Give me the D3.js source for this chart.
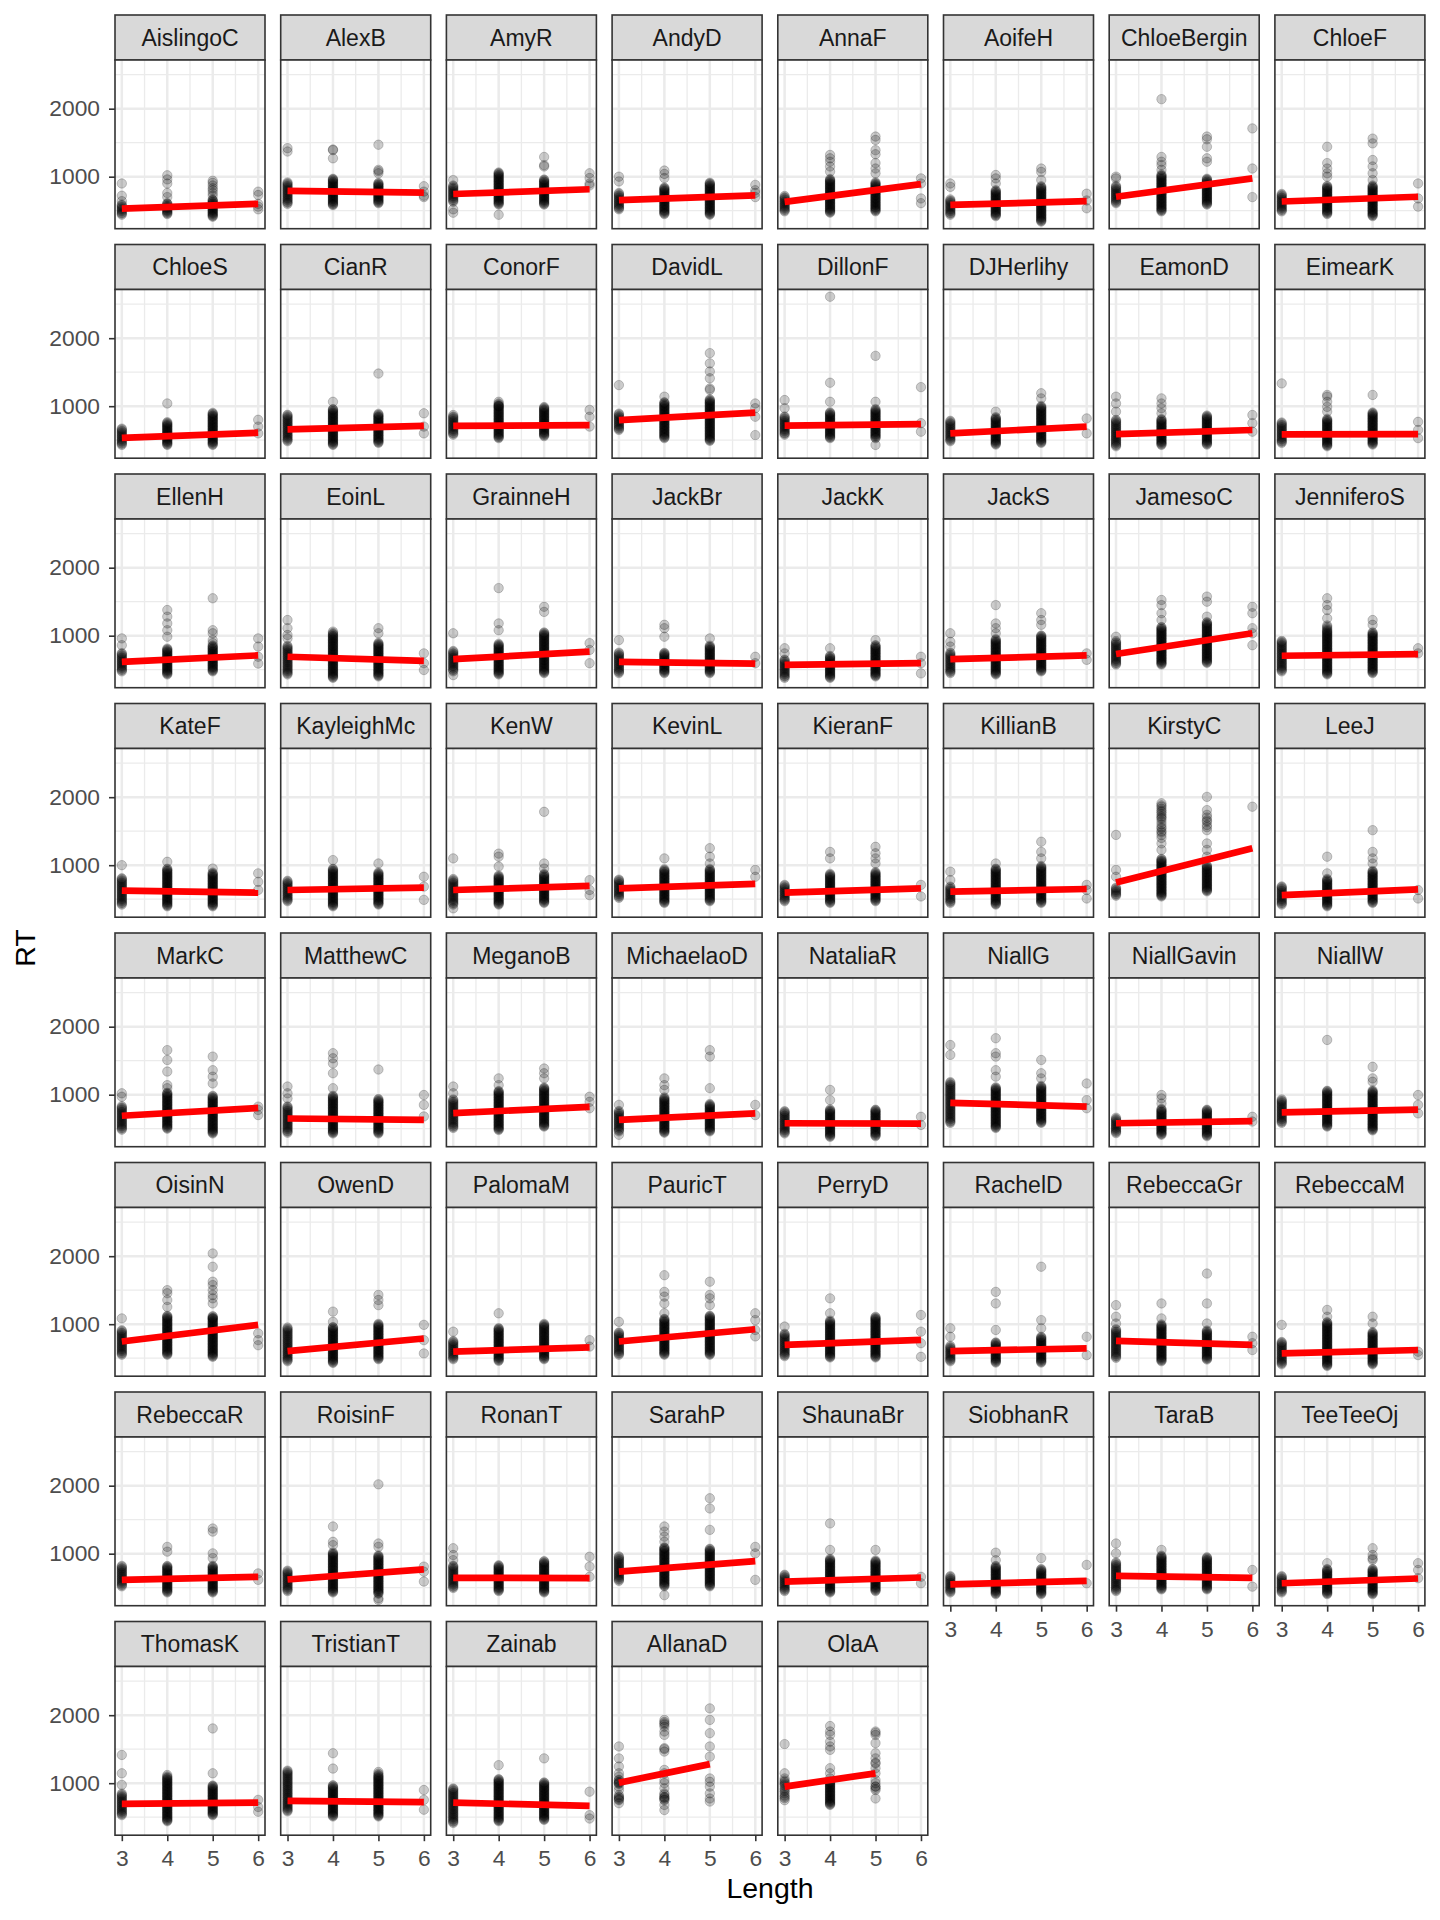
<!DOCTYPE html>
<html><head><meta charset="utf-8">
<script src="https://cdn.jsdelivr.net/npm/d3@7"></script>
<style>body{margin:0;background:#fff} text{font-family:"Liberation Sans",Arial,Helvetica,sans-serif}</style>
</head><body><svg id="chart" width="1440" height="1920"></svg>
<script>
const participants = ["AislingoC","AlexB","AmyR","AndyD","AnnaF","AoifeH","ChloeBergin","ChloeF","ChloeS","CianR","ConorF","DavidL","DillonF","DJHerlihy","EamonD","EimearK","EllenH","EoinL","GrainneH","JackBr","JackK","JackS","JamesoC","JenniferoS","KateF","KayleighMc","KenW","KevinL","KieranF","KillianB","KirstyC","LeeJ","MarkC","MatthewC","MeganoB","MichaelaoD","NataliaR","NiallG","NiallGavin","NiallW","OisinN","OwenD","PalomaM","PauricT","PerryD","RachelD","RebeccaGr","RebeccaM","RebeccaR","RoisinF","RonanT","SarahP","ShaunaBr","SiobhanR","TaraB","TeeTeeOj","ThomasK","TristianT","Zainab","AllanaD","OlaA"];
const xTicks = [3,4,5,6];
const xMinor = [3.5,4.5,5.5];
const yTicks = [1000,2000];
const yMinor = [500,1500,2500];
const lengths = [3,4,5,6];

// RT (ms) per participant, word length 3
const rt3 = [
[900,720,640,440,456,468,486,500,516,528,546,560,576,588],
[1420,1370,600,616,628,646,660,676,688,706,720,736,748,766,780,796,808,826,840,856,868,886,900,916],
[950,470,520,630,646,658,676,690,706,718,736,750,766,778,796,810,826,838,856,870],
[1000,930,520,536,548,566,580,596,608,626,640,656,668,686,700,716,728,746,760],
[490,506,518,536,550,566,578,596,610,626,638,656,670,686,698,716],
[900,850,440,456,468,486,500,516,528,546,560,576,588,606,620,636,648,666],
[1000,975,610,626,638,656,670,686,698,716,730,746,758,776,790,806,818,836,850,866],
[490,506,518,536,550,566,578,596,610,626,638,656,670,686,698,716,730,746],
[430,446,458,476,490,506,518,536,550,566,578,596,610,626,638,656,670],
[485,501,513,531,545,561,573,591,605,621,633,651,665,681,693,711,725,741,753,771,785,801,813,831,845,861,873],
[870,580,596,608,626,640,656,668,686,700,716,728,746,760,776,788,806,820,836,848],
[1310,650,666,678,696,710,726,738,756,770,786,798,816,830,846,858,876,890],
[1090,970,580,596,608,626,640,656,668,686,700,716,728,746,760,776,788,806,820,836,848],
[485,501,513,531,545,561,573,591,605,621,633,651,665,681,693,711,725,741,753,771,785],
[1140,1040,920,410,426,438,456,470,486,498,516,530,546,558,576,590,606,618,636,650,666,678,696,710,726,738,756,770,786,798],
[1335,460,476,488,506,520,536,548,566,580,596,608,626,640,656,668,686,700,716,728,746,760],
[960,860,475,491,503,521,535,551,563,581,595,611,623,641,655,671,683,701,715,731,743],
[1230,1110,1010,960,430,446,458,476,490,506,518,536,550,566,578,596,610,626,638,656,670,686,698,716,730,746,758,776,790,806,818,836,850],
[1035,420,475,491,503,521,535,551,563,581,595,611,623,641,655,671,683,701,715,731,743,761,775],
[935,450,466,478,496,510,526,538,556,570,586,598,616,630,646,658,676,690,706,718,736,750],
[815,740,380,396,408,426,440,456,468,486,500,516,528,546,560,576,588,606,620,636,648],
[1035,910,840,450,466,478,496,510,526,538,556,570,586,598,616,630,646,658,676,690,706,718,736,750],
[985,575,591,603,621,635,651,663,681,695,711,723,741,755,771,783,801,815,831,843,861,875,891,903,921],
[475,491,503,521,535,551,563,581,595,611,623,641,655,671,683,701,715,731,743,761,775,791,803,821,835,851,863,881,895,911,923],
[1000,420,436,448,466,480,496,508,526,540,556,568,586,600,616,628,646,660,676,688,706,720,736,748,766,780,796,808],
[470,486,498,516,530,546,558,576,590,606,618,636,650,666,678,696,710,726,738,756,770],
[1100,365,420,436,448,466,480,496,508,526,540,556,568,586,600,616,628,646,660,676,688,706,720,736,748,766,780,796],
[520,536,548,566,580,596,608,626,640,656,668,686,700,716,728,746,760,776,788],
[470,486,498,516,530,546,558,576,590,606,618,636,650,666,678,696,710],
[905,780,445,461,473,491,505,521,533,551,565,581,593,611,625,641,653,671,685],
[1445,930,830,550,566,578,596,610,626,638,656,670],
[420,436,448,466,480,496,508,526,540,556,568,586,600,616,628,646,660,676,688],
[1020,970,485,501,513,531,545,561,573,591,605,621,633,651,665,681,693,711,725,741,753,771,785,801,813,831],
[1120,1020,945,440,456,468,486,500,516,528,546,560,576,588,606,620,636,648,666,680,696,708,726,740,756,768,786,800,816,828],
[1120,1020,510,526,538,556,570,586,598,616,630,646,658,676,690,706,718,736,750,766,778,796,810,826,838,856,870,886,898,916,930],
[850,410,460,476,488,506,520,536,548,566,580,596,608,626,640,656,668,686,700,716,728,746,760],
[430,446,458,476,490,506,518,536,550,566,578,596,610,626,638,656,670,686,698,716,730,746,758],
[1730,1585,585,601,613,631,645,661,673,691,705,721,733,751,765,781,793,811,825,841,853,871,885,901,913,931,945,961,973,991,1005,1021,1033,1051,1065,1081,1093,1111,1125,1141,1153,1171,1185],
[435,451,463,481,495,511,523,541,555,571,583,601,615,631,643,661],
[585,601,613,631,645,661,673,691,705,721,733,751,765,781,793,811,825,841,853,871,885,901,913,931],
[1085,550,566,578,596,610,626,638,656,670,686,698,716,730,746,758,776,790,806,818,836,850,866,878,896,910],
[455,471,483,501,515,531,543,561,575,591,603,621,635,651,663,681,695,711,723,741,755,771,783,801,815,831,843,861,875,891,903,921,935,951],
[890,485,501,513,531,545,561,573,591,605,621,633,651,665,681,693,711,725,741,753],
[1035,550,566,578,596,610,626,638,656,670,686,698,716,730,746,758,776,790,806,818,836,850,866,878],
[965,530,546,558,576,590,606,618,636,650,666,678,696,710,726,738,756,770,786,798,816,830,846,858],
[940,815,455,471,483,501,515,531,543,561,575,591,603,621,635,651,663,681],
[1280,1110,1010,505,521,533,551,565,581,593,611,625,641,653,671,685,701,713,731,745,761,773,791,805,821,833,851,865,881,893,911,925],
[990,410,426,438,456,470,486,498,516,530,546,558,576,590,606,618,636,650,666,678,696,710,726,738],
[520,536,548,566,580,596,608,626,640,656,668,686,700,716,728,746,760,776,788,806,820],
[450,466,478,496,510,526,538,556,570,586,598,616,630,646,658,676,690,706,718,736,750],
[1080,980,905,495,511,523,541,555,571,583,601,615,631,643,661,675,691,703,721,735,751,763,781,795,811,823],
[600,616,628,646,660,676,688,706,720,736,748,766,780,796,808,826,840,856,868,886,900,916,928,946,960],
[450,466,478,496,510,526,538,556,570,586,598,616,630,646,658,676,690],
[430,446,458,476,490,506,518,536,550,566,578,596,610,626,638,656,670],
[1150,1005,450,466,478,496,510,526,538,556,570,586,598,616,630,646,658,676,690,706,718,736,750,766,778,796,810,826,838,856,870],
[430,446,458,476,490,506,518,536,550,566,578,596,610,626,638,656,670],
[1415,1145,975,530,546,558,576,590,606,618,636,650,666,678,696,710,726,738,756,770,786,798,816,830,846],
[585,601,613,631,645,661,673,691,705,721,733,751,765,781,793,811,825,841,853,871,885,901,913,931,945,961,973,991,1005,1021,1033,1051,1065,1081,1093,1111,1125,1141,1153,1171,1185],
[415,431,443,461,475,491,503,521,535,551,563,581,595,611,623,641,655,671,683,701,715,731,743,761,775,791,803,821,835,851,863,881,895,911,923],
[1540,1365,1245,1145,1095,1050,1040,1020,1010,1000,990,950,900,825,800,790,775,760,750,705],
[1575,1145,1070,1040,1020,1000,980,960,925,900,880,850,820,800,780,750]
];

// word length 4
const rt4 = [
[1020,960,900,760,700,450,462,471,485,496,509,517,532,542,554,563,577,588,601,609],
[1400,1390,1270,580,592,601,615,626,639,647,662,672,684,693,707,718,731,739,754,764,776,785,799,810,823,831,846,856,868,877,891,902,915,923,938,948,960,969],
[440,590,602,611,625,636,649,657,672,682,694,703,717,728,741,749,764,774,786,795,809,820,833,841,856,866,878,887,901,912,925,933,948,958,970,979,993,1004,1017,1025,1040,1050,1062],
[1090,1040,980,450,462,471,485,496,509,517,532,542,554,563,577,588,601,609,624,634,646,655,669,680,693,701,716,726,738,747,761,772,785,793,808,818,830,839],
[1320,1270,1220,1150,1075,470,482,491,505,516,529,537,552,562,574,583,597,608,621,629,644,654,666,675,689,700,713,721,736,746,758,767,781,792,805,813,828,838,850,859,873,884,897,905,920,930,942,951,965],
[1025,975,900,420,432,441,455,466,479,487,502,512,524,533,547,558,571,579,594,604,616,625,639,650,663,671,686,696,708,717,731,742,755,763,778,788,800],
[2140,1290,1220,1170,1100,490,502,511,525,536,549,557,572,582,594,603,617,628,641,649,664,674,686,695,709,720,733,741,756,766,778,787,801,812,825,833,848,858,870,879,893,904,917,925,940,950,962,971,985,996,1009,1017,1032],
[1440,1200,1120,1050,1000,450,462,471,485,496,509,517,532,542,554,563,577,588,601,609,624,634,646,655,669,680,693,701,716,726,738,747,761,772,785,793,808,818,830,839,853,864],
[1040,430,442,451,465,476,489,497,512,522,534,543,557,568,581,589,604,614,626,635,649,660,673,681,696,706,718,727,741,752,765],
[1065,430,442,451,465,476,489,497,512,522,534,543,557,568,581,589,604,614,626,635,649,660,673,681,696,706,718,727,741,752,765,773,788,798,810,819,833,844,857,865,880,890,902,911,925,936,949,957],
[1065,1040,1000,530,542,551,565,576,589,597,612,622,634,643,657,668,681,689,704,714,726,735,749,760,773,781,796,806,818,827,841,852,865,873,888,898,910,919,933,944,957,965,980,990,1002,1011,1025],
[1140,530,542,551,565,576,589,597,612,622,634,643,657,668,681,689,704,714,726,735,749,760,773,781,796,806,818,827,841,852,865,873,888,898,910,919,933,944,957,965,980,990,1002,1011,1025,1036,1049,1057],
[2610,1345,1065,530,542,551,565,576,589,597,612,622,634,643,657,668,681,689,704,714,726,735,749,760,773,781,796,806,818,827,841,852,865,873,888,898,910],
[920,435,447,456,470,481,494,502,517,527,539,548,562,573,586,594,609,619,631,640,654,665,678,686,701,711,723,732,746,757,770,778,793,803,815,824,838],
[1115,1040,970,895,430,442,451,465,476,489,497,512,522,534,543,557,568,581,589,604,614,626,635,649,660,673,681,696,706,718,727,741,752,765,773,788,798,810],
[1165,1140,1065,990,920,410,422,431,445,456,469,477,492,502,514,523,537,548,561,569,584,594,606,615,629,640,653,661,676,686,698,707,721,732,745,753,768,778,790,799,813],
[1377,1280,1180,1080,985,430,442,451,465,476,489,497,512,522,534,543,557,568,581,589,604,614,626,635,649,660,673,681,696,706,718,727,741,752,765,773,788,798,810],
[380,392,401,415,426,439,447,462,472,484,493,507,518,531,539,554,564,576,585,599,610,623,631,646,656,668,677,691,702,715,723,738,748,760,769,783,794,807,815,830,840,852,861,875,886,899,907,922,932,944,953,967,978,991,999,1014,1024,1040,1060],
[1700,1180,1080,430,442,451,465,476,489,497,512,522,534,543,557,568,581,589,604,614,626,635,649,660,673,681,696,706,718,727,741,752,765,773,788,798,810,819,833,844,857,865,880],
[1160,1110,985,450,462,471,485,496,509,517,532,542,554,563,577,588,601,609,624,634,646,655,669,680,693,701,716,726,738,747],
[815,380,392,401,415,426,439,447,462,472,484,493,507,518,531,539,554,564,576,585,599,610,623,631,646,656,668,677,691,702],
[1450,1180,1110,1035,430,442,451,465,476,489,497,512,522,534,543,557,568,581,589,604,614,626,635,649,660,673,681,696,706,718,727,741,752,765,773,788,798,810,819,833,844,857,865,880,890,902,911,925,936,949],
[1525,1450,1330,1230,575,587,596,610,621,634,642,657,667,679,688,702,713,726,734,749,759,771,780,794,805,818,826,841,851,863,872,886,897,910,918,933,943,955,964,978,989,1002,1010,1025,1035,1047,1056,1070,1081,1094,1102,1117,1127],
[1550,1450,1377,1255,430,442,451,465,476,489,497,512,522,534,543,557,568,581,589,604,614,626,635,649,660,673,681,696,706,718,727,741,752,765,773,788,798,810,819,833,844,857,865,880,890,902,911,925,936,949,957,972,982,994,1003,1017,1028,1041,1049,1064,1074,1090,1110,1130,1150],
[1050,395,407,416,430,441,454,462,477,487,499,508,522,533,546,554,569,579,591,600,614,625,638,646,661,671,683,692,706,717,730,738,753,763,775,784,798,809,822,830,845,855,867,876,890,901,914,922,937,947],
[1075,395,407,416,430,441,454,462,477,487,499,508,522,533,546,554,569,579,591,600,614,625,638,646,661,671,683,692,706,717,730,738,753,763,775,784,798,809,822,830,845,855,867,876,890,901,914,922,937,947],
[1170,1125,980,420,432,441,455,466,479,487,502,512,524,533,547,558,571,579,594,604,616,625,639,650,663,671,686,696,708,717,731,742,755,763,778,788,800,809,823,834,847],
[1100,445,457,466,480,491,504,512,527,537,549,558,572,583,596,604,619,629,641,650,664,675,688,696,711,721,733,742,756,767,780,788,803,813,825,834,848,859,872,880,895,905,917,926,940],
[1195,1100,445,457,466,480,491,504,512,527,537,549,558,572,583,596,604,619,629,641,650,664,675,688,696,711,721,733,742,756,767,780,788,803,813,825,834,848,859,872],
[1025,420,432,441,455,466,479,487,502,512,524,533,547,558,571,579,594,604,616,625,639,650,663,671,686,696,708,717,731,742,755,763,778,788,800,809,823,834,847,855,870,880,892,901,915,926,939,947],
[1910,1880,1860,1830,1800,1780,1750,1720,1700,1680,1640,1600,1560,1540,1500,1480,1445,1400,1320,1225,540,552,561,575,586,599,607,622,632,644,653,667,678,691,699,714,724,736,745,759,770,783,791,806,816,828,837,851,862,875,883,898,908,920,929,943,954,967,975,990,1000,1012,1021,1035,1046,1059,1067,1082,1092],
[1125,880,395,407,416,430,441,454,462,477,487,499,508,522,533,546,554,569,579,591,600,614,625,638,646,661,671,683,692,706,717,730,738,753,763,775,784,798],
[1655,1510,1340,1140,1095,500,512,521,535,546,559,567,582,592,604,613,627,638,651,659,674,684,696,705,719,730,743,751,766,776,788,797,811,822,835,843,858,868,880,889,903,914,927,935,950,960,972,981,995,1006,1019,1027],
[1610,1535,1460,1315,1095,430,442,451,465,476,489,497,512,522,534,543,557,568,581,589,604,614,626,635,649,660,673,681,696,706,718,727,741,752,765,773,788,798,810,819,833,844,857,865,880,890,902,911,925,936,949,957,972,982],
[1240,1140,480,492,501,515,526,539,547,562,572,584,593,607,618,631,639,654,664,676,685,699,710,723,731,746,756,768,777,791,802,815,823,838,848,860,869,883,894,907,915,930,940,952,961,975,986,999,1007,1022,1032,1044,1053],
[1240,1140,1070,440,452,461,475,486,499,507,522,532,544,553,567,578,591,599,614,624,636,645,659,670,683,691,706,716,728,737,751,762,775,783,798,808,820,829,843,854,867,875,890,900,912,921,935,946,959],
[1070,920,380,392,401,415,426,439,447,462,472,484,493,507,518,531,539,554,564,576,585,599,610,623,631,646,656,668,677,691,702,715,723,738,748,760,769,783],
[1830,1610,1560,1360,1265,510,522,531,545,556,569,577,592,602,614,623,637,648,661,669,684,694,706,715,729,740,753,761,776,786,798,807,821,832,845,853,868,878,890,899,913,924,937,945,960,970,982,991,1005,1016,1029,1037,1052,1062,1074,1083,1097,1108],
[995,945,870,410,422,431,445,456,469,477,492,502,514,523,537,548,561,569,584,594,606,615,629,640,653,661,676,686,698,707,721,732,745,753,768,778,790],
[1805,530,542,551,565,576,589,597,612,622,634,643,657,668,681,689,704,714,726,735,749,760,773,781,796,806,818,827,841,852,865,873,888,898,910,919,933,944,957,965,980,990,1002,1011,1025,1036,1049,1057],
[1500,1455,1355,1255,550,562,571,585,596,609,617,632,642,654,663,677,688,701,709,724,734,746,755,769,780,793,801,816,826,838,847,861,872,885,893,908,918,930,939,953,964,977,985,1000,1010,1022,1031,1045,1056,1069,1077,1092,1102,1114,1123],
[1185,1035,430,442,451,465,476,489,497,512,522,534,543,557,568,581,589,604,614,626,635,649,660,673,681,696,706,718,727,741,752,765,773,788,798,810,819,833,844,857,865,880,890,902,911,925,936,949,957],
[1160,460,472,481,495,506,519,527,542,552,564,573,587,598,611,619,634,644,656,665,679,690,703,711,726,736,748,757,771,782,795,803,818,828,840,849,863,874,887,895,910,920,932,941],
[1720,1475,1405,1305,1160,550,562,571,585,596,609,617,632,642,654,663,677,688,701,709,724,734,746,755,769,780,793,801,816,826,838,847,861,872,885,893,908,918,930,939,953,964,977,985,1000,1010,1022,1031,1045,1056,1069,1077],
[1380,1160,510,522,531,545,556,569,577,592,602,614,623,637,648,661,669,684,694,706,715,729,740,753,761,776,786,798,807,821,832,845,853,868,878,890,899,913,924,937,945,960,970,982,991,1005,1016,1029,1037,1052],
[1475,1305,915,435,447,456,470,481,494,502,517,527,539,548,562,573,586,594,609,619,631,640,654,665,678,686,701,711,723,732],
[1305,1085,455,467,476,490,501,514,522,537,547,559,568,582,593,606,614,629,639,651,660,674,685,698,706,721,731,743,752,766,777,790,798,813,823,835,844,858,869,882,890,905,915,927,936,950,961,974,982,997],
[1210,1110,385,397,406,420,431,444,452,467,477,489,498,512,523,536,544,559,569,581,590,604,615,628,636,651,661,673,682,696,707,720,728,743,753,765,774,788,799,812,820,835,845,857,866,880,891,904,912,927,937,949,958,972,983,996,1004,1019,1029],
[1100,1030,430,442,451,465,476,489,497,512,522,534,543,557,568,581,589,604,614,626,635,649,660,673,681,696,706,718,727,741,752,765,773,788,798,810,819],
[1400,1175,1125,430,442,451,465,476,489,497,512,522,534,543,557,568,581,589,604,614,626,635,649,660,673,681,696,706,718,727,741,752,765,773,788,798,810,819,833,844,857,865,880,890,902,911,925,936,949,957,972,982,994,1003,1017],
[450,462,471,485,496,509,517,532,542,554,563,577,588,601,609,624,634,646,655,669,680,693,701,716,726,738,747,761,772,785,793,808,818,830],
[1400,1325,1250,1175,390,520,532,541,555,566,579,587,602,612,624,633,647,658,671,679,694,704,716,725,739,750,763,771,786,796,808,817,831,842,855,863,878,888,900,909,923,934,947,955,970,980,992,1001,1015,1026,1039,1047,1062,1072,1084,1093],
[1445,1055,430,442,451,465,476,489,497,512,522,534,543,557,568,581,589,604,614,626,635,649,660,673,681,696,706,718,727,741,752,765,773,788,798,810,819,833,844,857,865,880,890,902,911,925],
[1015,905,405,417,426,440,451,464,472,487,497,509,518,532,543,556,564,579,589,601,610,624,635,648,656,671,681,693,702,716,727,740,748,763,773,785,794,808,819],
[1055,475,487,496,510,521,534,542,557,567,579,588,602,613,626,634,649,659,671,680,694,705,718,726,741,751,763,772,786,797,810,818,833,843,855,864,878,889,902,910,925,935,947,956,970],
[860,405,417,426,440,451,464,472,487,497,509,518,532,543,556,564,579,589,601,610,624,635,648,656,671,681,693,702,716,727,740,748,763,773],
[440,452,461,475,486,499,507,522,532,544,553,567,578,591,599,614,624,636,645,659,670,683,691,706,716,728,737,751,762,775,783,798,808,820,829,843,854,867,875,890,900,912,921,935,946,959,967,982,992,1004,1013,1027,1038,1051,1059,1074,1084,1100,1120],
[1440,1215,510,522,531,545,556,569,577,592,602,614,623,637,648,661,669,684,694,706,715,729,740,753,761,776,786,798,807,821,832,845,853,868,878,890,899,913,924,937,945,960,970],
[1265,440,452,461,475,486,499,507,522,532,544,553,567,578,591,599,614,624,636,645,659,670,683,691,706,716,728,737,751,762,775,783,798,808,820,829,843,854,867,875,890,900,912,921,935,946,959,967,982,992,1004,1013,1027,1038,1051,1059],
[1930,1900,1880,1860,1830,1760,1710,1515,1500,1465,1195,1145,1045,1000,925,850,830,800,790,780,760,750,680,605],
[1840,1760,1710,1610,1540,1490,1220,1145,1070,680,692,701,715,726,739,747,762,772,784,793,807,818,831,839,854,864,876,885,899,910,923,931,946,956,968,977,991,1002,1015,1023]
];

// word length 5
const rt5 = [
[940,910,870,830,800,760,720,410,422,431,445,456,469,477,492,502,514,523,537,548,561,569,584,594,606,615,629,640,653,661],
[1470,1100,1080,1050,610,622,631,645,656,669,677,692,702,714,723,737,748,761,769,784,794,806,815,829,840,853,861,876,886,898,907],
[1290,1170,1150,590,602,611,625,636,649,657,672,682,694,703,717,728,741,749,764,774,786,795,809,820,833,841,856,866,878,887,901,912,925,933,948,958],
[440,452,461,475,486,499,507,522,532,544,553,567,578,591,599,614,624,636,645,659,670,683,691,706,716,728,737,751,762,775,783,798,808,820,829,843,854,867,875,890,900,912],
[1590,1540,1390,1330,1200,1120,1050,490,502,511,525,536,549,557,572,582,594,603,617,628,641,649,664,674,686,695,709,720,733,741,756,766,778,787,801,812,825,833,848,858,870,879,893,904,917],
[1120,1070,950,340,352,361,375,386,399,407,422,432,444,453,467,478,491,499,514,524,536,545,559,570,583,591,606,616,628,637,651,662,675,683,698,708,720,729,743,754,767,775,790,800,812,821,835,846,859],
[1590,1550,1440,1270,1220,590,602,611,625,636,649,657,672,682,694,703,717,728,741,749,764,774,786,795,809,820,833,841,856,866,878,887,901,912,925,933,948,958,970],
[1560,1490,1245,1150,1050,950,420,432,441,455,466,479,487,502,512,524,533,547,558,571,579,594,604,616,625,639,650,663,671,686,696,708,717,731,742,755,763,778,788,800,809,823,834,847,855,870],
[430,442,451,465,476,489,497,512,522,534,543,557,568,581,589,604,614,626,635,649,660,673,681,696,706,718,727,741,752,765,773,788,798,810,819,833,844,857,865,880,890,902],
[1480,460,472,481,495,506,519,527,542,552,564,573,587,598,611,619,634,644,656,665,679,690,703,711,726,736,748,757,771,782,795,803,818,828,840,849,863,874,887],
[560,572,581,595,606,619,627,642,652,664,673,687,698,711,719,734,744,756,765,779,790,803,811,826,836,848,857,871,882,895,903,918,928,940,949,963,974,987],
[1780,1630,1510,1410,1260,1240,490,502,511,525,536,549,557,572,582,594,603,617,628,641,649,664,674,686,695,709,720,733,741,756,766,778,787,801,812,825,833,848,858,870,879,893,904,917,925,940,950,962,971,985,996,1009,1017,1032,1042,1054,1063,1077,1088,1101],
[1740,1065,430,530,542,551,565,576,589,597,612,622,634,643,657,668,681,689,704,714,726,735,749,760,773,781,796,806,818,827,841,852,865,873,888,898,910,919,933,944,957],
[1190,1115,460,472,481,495,506,519,527,542,552,564,573,587,598,611,619,634,644,656,665,679,690,703,711,726,736,748,757,771,782,795,803,818,828,840,849,863,874,887,895,910,920,932,941,955,966,979,987,1002],
[435,447,456,470,481,494,502,517,527,539,548,562,573,586,594,609,619,631,640,654,665,678,686,701,711,723,732,746,757,770,778,793,803,815,824,838,849,862],
[1165,435,447,456,470,481,494,502,517,527,539,548,562,573,586,594,609,619,631,640,654,665,678,686,701,711,723,732,746,757,770,778,793,803,815,824,838,849,862,870,885,895,907],
[1550,1080,1035,935,890,475,487,496,510,521,534,542,557,567,579,588,602,613,626,634,649,659,671,680,694,705,718,726,741,751,763,772,786,797,810,818,833,843,855],
[1110,1035,400,412,421,435,446,459,467,482,492,504,513,527,538,551,559,574,584,596,605,619,630,643,651,666,676,688,697,711,722,735,743,758,768,780,789,803,814,827,835,850,860,872,881,895],
[1425,1350,450,462,471,485,496,509,517,532,542,554,563,577,588,601,609,624,634,646,655,669,680,693,701,716,726,738,747,761,772,785,793,808,818,830,839,853,864,877,885,900,910,922,931,945,956,969,977,992,1002,1014,1023,1037,1048],
[960,450,462,471,485,496,509,517,532,542,554,563,577,588,601,609,624,634,646,655,669,680,693,701,716,726,738,747,761,772,785,793,808,818,830,839,853],
[935,400,412,421,435,446,459,467,482,492,504,513,527,538,551,559,574,584,596,605,619,630,643,651,666,676,688,697,711,722,735,743,758,768,780,789,803,814,827,835,850,860],
[1330,1230,1160,475,487,496,510,521,534,542,557,567,579,588,602,613,626,634,649,659,671,680,694,705,718,726,741,751,763,772,786,797,810,818,833,843,855,864,878,889,902,910,925,935,947,956,970,981,994,1002],
[1575,1500,1280,600,612,621,635,646,659,667,682,692,704,713,727,738,751,759,774,784,796,805,819,830,843,851,866,876,888,897,911,922,935,943,958,968,980,989,1003,1014,1027,1035,1050,1060,1072,1081,1095,1106,1119,1127,1142,1152,1164,1173,1187,1198],
[1230,1160,450,462,471,485,496,509,517,532,542,554,563,577,588,601,609,624,634,646,655,669,680,693,701,716,726,738,747,761,772,785,793,808,818,830,839,853,864,877,885,900,910,922,931,945,956,969,977,992,1002,1014,1023,1037,1048],
[950,395,407,416,430,441,454,462,477,487,499,508,522,533,546,554,569,579,591,600,614,625,638,646,661,671,683,692,706,717,730,738,753,763,775,784,798,809,822,830,845,855,867,876,890],
[1025,420,432,441,455,466,479,487,502,512,524,533,547,558,571,579,594,604,616,625,639,650,663,671,686,696,708,717,731,742,755,763,778,788,800,809,823,834,847,855,870,880,892],
[1785,1025,950,445,457,466,480,491,504,512,527,537,549,558,572,583,596,604,619,629,641,650,664,675,688,696,711,721,733,742,756,767,780,788,803,813,825,834,848,859,872],
[1250,1125,1025,470,482,491,505,516,529,537,552,562,574,583,597,608,621,629,644,654,666,675,689,700,713,721,736,746,758,767,781,792,805,813,828,838,850,859,873,884,897,905,920,930,942],
[1270,1175,1100,1025,470,482,491,505,516,529,537,552,562,574,583,597,608,621,629,644,654,666,675,689,700,713,721,736,746,758,767,781,792,805,813,828,838,850,859,873,884,897],
[1345,1195,1100,445,457,466,480,491,504,512,527,537,549,558,572,583,596,604,619,629,641,650,664,675,688,696,711,721,733,742,756,767,780,788,803,813,825,834,848,859,872,880,895,905,917,926,940,951,964,972,987],
[2005,1810,1740,1700,1660,1640,1590,1560,1515,1320,1225,1125,615,627,636,650,661,674,682,697,707,719,728,742,753,766,774,789,799,811,820,834,845,858,866,881,891,903,912,926,937,950,958,973,983,995],
[1515,1195,1100,1025,445,457,466,480,491,504,512,527,537,549,558,572,583,596,604,619,629,641,650,664,675,688,696,711,721,733,742,756,767,780,788,803,813,825,834,848,859,872,880,895,905,917],
[1560,1360,1265,1165,430,442,451,465,476,489,497,512,522,534,543,557,568,581,589,604,614,626,635,649,660,673,681,696,706,718,727,741,752,765,773,788,798,810,819,833,844,857,865,880,890,902,911,925,936,949,957,972,982],
[1370,430,442,451,465,476,489,497,512,522,534,543,557,568,581,589,604,614,626,635,649,660,673,681,696,706,718,727,741,752,765,773,788,798,810,819,833,844,857,865,880,890,902,911,925,936],
[1385,1315,1240,530,542,551,565,576,589,597,612,622,634,643,657,668,681,689,704,714,726,735,749,760,773,781,796,806,818,827,841,852,865,873,888,898,910,919,933,944,957,965,980,990,1002,1011,1025,1036,1049,1057,1072,1082,1094,1103],
[1655,1560,1095,460,472,481,495,506,519,527,542,552,564,573,587,598,611,619,634,644,656,665,679,690,703,711,726,736,748,757,771,782,795,803,818,828,840,849,863],
[390,402,411,425,436,449,457,472,482,494,503,517,528,541,549,564,574,586,595,609,620,633,641,656,666,678,687,701,712,725,733,748,758,770,779],
[1510,1315,1240,585,597,606,620,631,644,652,667,677,689,698,712,723,736,744,759,769,781,790,804,815,828,836,851,861,873,882,896,907,920,928,943,953,965,974,988,999,1012,1020,1035,1045,1057,1066,1080,1091,1104,1112,1127],
[390,402,411,425,436,449,457,472,482,494,503,517,528,541,549,564,574,586,595,609,620,633,641,656,666,678,687,701,712,725,733,748,758,770,779],
[1410,1240,1190,475,487,496,510,521,534,542,557,567,579,588,602,613,626,634,649,659,671,680,694,705,718,726,741,751,763,772,786,797,810,818,833,843,855,864,878,889,902,910,925,935,947,956,970,981,994,1002,1017,1027,1039,1048,1062],
[2040,1845,1625,1575,1500,1430,1380,1305,1085,520,532,541,555,566,579,587,602,612,624,633,647,658,671,679,694,704,716,725,739,750,763,771,786,796,808,817,831,842,855,863,878,888,900,909,923,934,947,955,970,980,992,1001,1015,1026,1039,1047,1062,1072,1084,1093,1107,1118],
[1430,1355,1280,485,497,506,520,531,544,552,567,577,589,598,612,623,636,644,659,669,681,690,704,715,728,736,751,761,773,782,796,807,820,828,843,853,865,874,888,899,912,920,935,945,957,966,980,991,1004],
[485,497,506,520,531,544,552,567,577,589,598,612,623,636,644,659,669,681,690,704,715,728,736,751,761,773,782,796,807,820,828,843,853,865,874,888,899,912,920,935,945,957,966,980,991,1004],
[1625,1430,1380,1280,550,562,571,585,596,609,617,632,642,654,663,677,688,701,709,724,734,746,755,769,780,793,801,816,826,838,847,861,872,885,893,908,918,930,939,953,964,977,985,1000,1010,1022,1031,1045,1056,1069,1077,1092,1102,1114,1123],
[510,522,531,545,556,569,577,592,602,614,623,637,648,661,669,684,694,706,715,729,740,753,761,776,786,798,807,821,832,845,853,868,878,890,899,913,924,937,945,960,970,982,991,1005,1016,1029,1037,1052,1062,1074,1083,1097,1108],
[1845,1060,940,435,447,456,470,481,494,502,517,527,539,548,562,573,586,594,609,619,631,640,654,665,678,686,701,711,723,732,746,757,770,778,793,803,815],
[1745,1305,1010,480,492,501,515,526,539,547,562,572,584,593,607,618,631,639,654,664,676,685,699,710,723,731,746,756,768,777,791,802,815,823,838,848,860,869,883,894,907],
[1110,1010,410,422,431,445,456,469,477,492,502,514,523,537,548,561,569,584,594,606,615,629,640,653,661,676,686,698,707,721,732,745,753,768,778,790,799,813,824,837,845,860,870,882],
[1370,1325,1005,935,430,442,451,465,476,489,497,512,522,534,543,557,568,581,589,604,614,626,635,649,660,673,681,696,706,718,727,741,752,765,773,788,798,810,819],
[2020,1150,1100,345,320,410,422,431,445,456,469,477,492,502,514,523,537,548,561,569,584,594,606,615,629,640,653,661,676,686,698,707,721,732,745,753,768,778,790,799,813,824,837,845,860,870,882,891,905,916,929,937,952,962,974],
[430,442,451,465,476,489,497,512,522,534,543,557,568,581,589,604,614,626,635,649,660,673,681,696,706,718,727,741,752,765,773,788,798,810,819,833,844,857,865,880,890],
[1815,1665,1350,520,532,541,555,566,579,587,602,612,624,633,647,658,671,679,694,704,716,725,739,750,763,771,786,796,808,817,831,842,855,863,878,888,900,909,923,934,947,955,970,980,992,1001,1015,1026,1039,1047,1062,1072],
[1055,450,462,471,485,496,509,517,532,542,554,563,577,588,601,609,624,634,646,655,669,680,693,701,716,726,738,747,761,772,785,793,808,818,830,839,853,864,877,885,900],
[935,405,417,426,440,451,464,472,487,497,509,518,532,543,556,564,579,589,601,610,624,635,648,656,671,681,693,702,716,727,740,748,763,773],
[475,487,496,510,521,534,542,557,567,579,588,602,613,626,634,649,659,671,680,694,705,718,726,741,751,763,772,786,797,810,818,833,843,855,864,878,889,902,910,925,935,947],
[1080,980,930,910,405,417,426,440,451,464,472,487,497,509,518,532,543,556,564,579,589,601,610,624,635,648,656,671,681,693,702,716,727,740,748,763,773],
[1805,1145,530,542,551,565,576,589,597,612,622,634,643,657,668,681,689,704,714,726,735,749,760,773,781,796,806,818,827,841,852,865,873,888,898,910,919,933,944,957,965],
[510,522,531,545,556,569,577,592,602,614,623,637,648,661,669,684,694,706,715,729,740,753,761,776,786,798,807,821,832,845,853,868,878,890,899,913,924,937,945,960,970,982,991,1005,1016,1029,1037,1052,1062,1074,1083,1097,1108,1120,1140,1165],
[1365,460,472,481,495,506,519,527,542,552,564,573,587,598,611,619,634,644,656,665,679,690,703,711,726,736,748,757,771,782,795,803,818,828,840,849,863,874,887,895,910,920,932,941,955,966,979,987,1002,1012],
[2100,1930,1735,1540,1390,1070,1020,950,850,775,730],
[1760,1740,1710,1590,1440,1365,1300,1290,1220,1145,1045,1000,950,950,920,900,775]
];

// word length 6
const rt6 = [
[780,730,600,560,520],[860,780,720,700],[1050,980,900,870],[880,800,760,700],[975,900,680,610],[750,650,535],[1710,1120,700],[900,680,560],
[800,700,600],[895,700,600],[945,845,700],[1040,970,845,575],[1280,750,625],[820,600],[870,750,625],[770,650,530],
[960,840,690,590],[740,595,495],[890,790,595],[690,595],[690,595,445],[740,645],[1425,1330,1110,1035,860],[815,740],
[880,755,635],[830,685,490],[780,635,560],[930,830],[710,540],[710,635,510],[1860],[635,510],
[825,775,700],[995,850,680],[970,895,800],[850,700],[675,555],[1165,920,800],[675,605],[995,850,725],
[865,765,690],[990,765,570],[765,670],[1160,1060,915,820],[1135,890,720,520],[815,545],[815,720,620],[595,545],
[710,615],[810,735,590],[955,810,660],[1100,1005,615],[660,565],[835,565],[760,515],[860,760,640],
[755,650,580],[900,755,610],[875,530,480],[],[]
];

// fitted (lm) RT at Length 3 and at the largest Length of each participant
const fitStart = [530,790,745,655,630,585,705,635,535,660,710,795,715,600,590,585,615,690,655,615,570,655,730,705,625,635,635,660,595,610,745,560,690,650,730,630,580,880,580,740,745,605,595,745,695,605,755,570,615,620,645,735,590,550,675,565,695,740,715,1005,950];
const fitEnd = [600,765,815,725,890,640,975,705,610,710,720,905,735,700,650,590,710,630,765,590,595,710,1035,730,595,670,695,725,660,650,1250,645,805,630,820,725,575,825,610,780,990,790,660,925,770,645,695,620,660,770,640,890,650,600,645,635,715,720,665,1280,1145];

// ---------- layout ----------
const nCols = 8, panelW = 150, panelH = 168.7, stripH = 45;
const colPitch = 165.7, rowPitch = 229.5, left0 = 115, top0 = 15;
const x = d3.scaleLinear().domain([2.85, 6.15]).range([0, panelW]);
const y = d3.scaleLinear().domain([235, 2716]).range([panelH, 0]);
const border = "#333333", gridCol = "#EBEBEB";

const svg = d3.select("#chart");
svg.append("rect").attr("width",1440).attr("height",1920).attr("fill","#fff");
const defs = svg.append("defs");
defs.append("clipPath").attr("id","pclip").append("rect")
  .attr("x",0).attr("y",0).attr("width",panelW).attr("height",panelH);

const rtByLength = [rt3, rt4, rt5, rt6];
const line = d3.line().x(d => x(d[0])).y(d => y(d[1]));

participants.forEach((name, i) => {
  const r = Math.floor(i / nCols), c = i % nCols;
  const g = svg.append("g").attr("transform", `translate(${left0 + c*colPitch},${top0 + r*rowPitch})`);
  g.append("rect").attr("x",0).attr("y",0).attr("width",panelW).attr("height",stripH)
    .attr("fill","#D9D9D9").attr("stroke",border).attr("stroke-width",1.6);
  g.append("text").attr("x",panelW/2).attr("y",stripH/2 + 8.1).attr("text-anchor","middle")
    .attr("font-size",23).attr("fill","#1A1A1A").text(name);

  const p = g.append("g").attr("transform", `translate(0,${stripH})`);
  p.append("rect").attr("width",panelW).attr("height",panelH).attr("fill","#fff");
  const plot = p.append("g").attr("clip-path","url(#pclip)");
  plot.selectAll(".vx").data(xMinor).join("line")
    .attr("x1",d=>x(d)).attr("x2",d=>x(d)).attr("y1",0).attr("y2",panelH)
    .attr("stroke",gridCol).attr("stroke-width",1.3);
  plot.selectAll(".hy").data(yMinor).join("line")
    .attr("y1",d=>y(d)).attr("y2",d=>y(d)).attr("x1",0).attr("x2",panelW)
    .attr("stroke",gridCol).attr("stroke-width",1.3);
  plot.selectAll(".vX").data(xTicks).join("line")
    .attr("x1",d=>x(d)).attr("x2",d=>x(d)).attr("y1",0).attr("y2",panelH)
    .attr("stroke",gridCol).attr("stroke-width",2.5);
  plot.selectAll(".hY").data(yTicks).join("line")
    .attr("y1",d=>y(d)).attr("y2",d=>y(d)).attr("x1",0).attr("x2",panelW)
    .attr("stroke",gridCol).attr("stroke-width",2.5);

  const pts = [];
  rtByLength.forEach((arr, k) => arr[i].forEach(v => pts.push([lengths[k], v])));
  plot.selectAll("circle").data(pts).join("circle")
    .attr("cx",d=>x(d[0])).attr("cy",d=>y(d[1])).attr("r",4.7)
    .attr("fill","rgba(0,0,0,0.2)").attr("stroke","rgba(0,0,0,0.2)").attr("stroke-width",1);

  const xmax = rt6[i].length ? 6 : 5;
  plot.append("path").datum([[3, fitStart[i]], [xmax, fitEnd[i]]])
    .attr("d", line).attr("fill","none").attr("stroke","#FF0000").attr("stroke-width",6.7);

  p.append("rect").attr("width",panelW).attr("height",panelH).attr("fill","none")
    .attr("stroke",border).attr("stroke-width",1.6);

  if (c === 0) {
    const ax = p.append("g").call(d3.axisLeft(y).tickValues(yTicks).tickSize(6).tickPadding(9).tickFormat(d3.format("d")));
    ax.select(".domain").remove();
    ax.selectAll(".tick line").attr("stroke",border).attr("stroke-width",1.6);
    ax.selectAll(".tick text").attr("font-size",22.8).attr("fill","#4D4D4D")
      .attr("font-family","Liberation Sans, Arial, sans-serif");
  }
  if (i + nCols >= participants.length) {
    const ax = p.append("g").attr("transform",`translate(0,${panelH})`)
      .call(d3.axisBottom(x).tickValues(xTicks).tickSize(6).tickPadding(9).tickFormat(d3.format("d")));
    ax.select(".domain").remove();
    ax.selectAll(".tick line").attr("stroke",border).attr("stroke-width",1.6);
    ax.selectAll(".tick text").attr("font-size",22.8).attr("fill","#4D4D4D")
      .attr("font-family","Liberation Sans, Arial, sans-serif");
  }
});

svg.append("text").attr("x",770).attr("y",1898).attr("text-anchor","middle")
  .attr("font-size",28.5).attr("fill","#000").text("Length");
svg.append("text").attr("transform","translate(35,948) rotate(-90)").attr("text-anchor","middle")
  .attr("font-size",28.5).attr("fill","#000").text("RT");
</script>
</body></html>
